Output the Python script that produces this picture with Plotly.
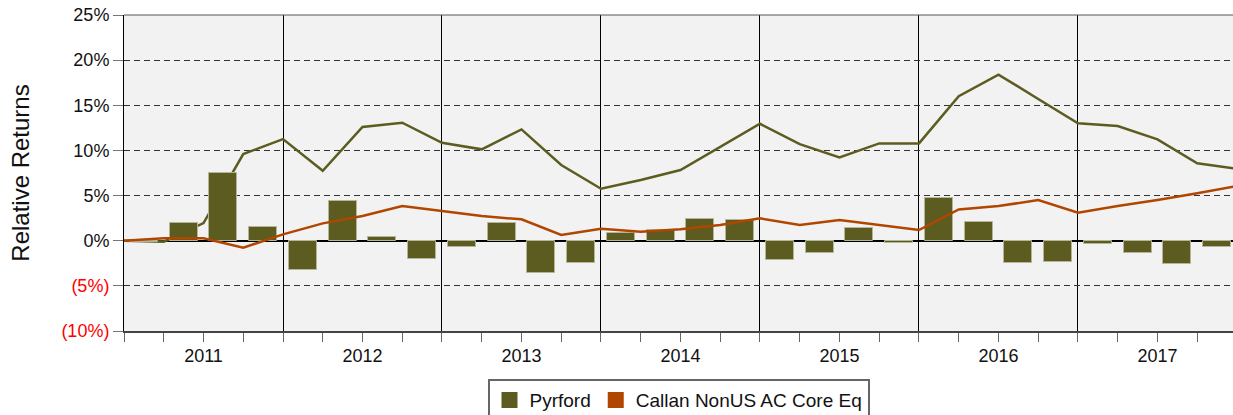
import plotly.graph_objects as go

# Quarter-end index: 0 = start of 2011, 28 = end of 2017
quarter_index = list(range(29))
bar_index = [q + 0.5 for q in range(28)]

years = ["2011", "2012", "2013", "2014", "2015", "2016", "2017"]

# Quarterly relative returns of Pyrford (bars), 2011Q1..2017Q4
pyrford_quarterly = [
    -0.1, 2.0, 7.5, 1.55,
    -3.25, 4.43, 0.37, -2.06,
    -0.66, 1.92, -3.6, -2.5,
    0.82, 1.2, 2.37, 2.29,
    -2.14, -1.4, 1.37, -0.2,
    4.7, 2.1, -2.5, -2.4,
    -0.37, -1.4, -2.58, -0.66,
]

# Cumulative relative returns at each quarter end
pyrford_cumulative = [
    0.0, -0.1, 1.96, 9.6, 11.26,
    7.75, 12.6, 13.07, 10.85,
    10.12, 12.33, 8.38, 5.76,
    6.72, 7.83, 10.4, 12.95,
    10.7, 9.23, 10.78, 10.78,
    16.0, 18.4, 15.7, 13.0,
    12.7, 11.23, 8.57, 7.98,
]
callan_cumulative = [
    0.0, 0.27, 0.27, -0.77, 0.7,
    1.92, 2.73, 3.84, 3.29,
    2.73, 2.37, 0.63, 1.33,
    1.0, 1.26, 1.74, 2.48,
    1.74, 2.29, 1.74, 1.18,
    3.47, 3.84, 4.5, 3.1,
    3.84, 4.5, 5.25, 6.05,
]

y_ticks = [-10, -5, 0, 5, 10, 15, 20, 25]
y_labels = ['<span style="color:#ff0000">(10%)</span>',
            '<span style="color:#ff0000">(5%)</span>',
            "0%", "5%", "10%", "15%", "20%", "25%"]

OLIVE = "#5c5c21"
RUST = "#b04600"
FONT = "Liberation Sans, Arial, sans-serif"
X_RANGE = [0, 27.9]
Y_RANGE = [-10, 25]

fig = go.Figure()

# Cumulative Pyrford line sits on the base axes, beneath the bars
fig.add_trace(go.Scatter(
    x=quarter_index, y=pyrford_cumulative, mode="lines",
    line=dict(color=OLIVE, width=2.5), showlegend=False,
    xaxis="x", yaxis="y",
))
# Quarterly bars and benchmark line on the overlay axes
fig.add_trace(go.Bar(
    x=bar_index, y=pyrford_quarterly, width=0.7,
    marker=dict(color=OLIVE, line=dict(color="#b5b59a", width=1)),
    showlegend=False, xaxis="x2", yaxis="y2",
))
fig.add_trace(go.Scatter(
    x=quarter_index, y=callan_cumulative, mode="lines",
    line=dict(color=RUST, width=2.5), showlegend=False,
    xaxis="x2", yaxis="y2",
))

# Legend entries
fig.add_trace(go.Scatter(
    x=[None], y=[None], mode="markers", name="Pyrford",
    marker=dict(symbol="square", size=16, color=OLIVE),
    xaxis="x2", yaxis="y2",
))
fig.add_trace(go.Scatter(
    x=[None], y=[None], mode="markers", name="Callan NonUS AC Core Eq",
    marker=dict(symbol="square", size=16, color=RUST),
    xaxis="x2", yaxis="y2",
))

fig.update_layout(
    width=1233, height=415,
    margin=dict(l=124, r=0, t=15, b=84, autoexpand=False),
    paper_bgcolor="white",
    plot_bgcolor="#f2f2f2",
    font=dict(family=FONT, size=18, color="#111"),
    bargap=0,
    xaxis=dict(
        range=X_RANGE,
        tickvals=list(range(0, 29, 4)),
        showticklabels=False,
        ticks="outside", ticklen=9, tickwidth=1, tickcolor="#666",
        minor=dict(tickvals=[q for q in range(29) if q % 4], ticks="outside",
                   ticklen=9, tickwidth=1, tickcolor="#666"),
        showgrid=True, gridcolor="#000", gridwidth=1,
        showline=True, linecolor="#444", linewidth=2,
        zeroline=False,
    ),
    xaxis2=dict(
        range=X_RANGE, overlaying="x", side="bottom",
        tickvals=[4 * i + 2 for i in range(len(years))], ticktext=years,
        ticks="outside", ticklen=8, tickcolor="rgba(0,0,0,0)",
        showgrid=False, showline=False, zeroline=False,
        tickfont=dict(size=18),
    ),
    yaxis=dict(
        range=Y_RANGE,
        tickvals=y_ticks, ticktext=y_labels,
        ticks="outside", ticklen=10, tickcolor="#777",
        showgrid=True, gridcolor="#333", gridwidth=1, griddash="6px,4px",
        zeroline=True, zerolinecolor="#000", zerolinewidth=1.5,
        showline=True, linecolor="#000", linewidth=1,
        title=dict(text="Relative Returns", font=dict(size=24), standoff=24),
    ),
    yaxis2=dict(
        range=Y_RANGE, overlaying="y", visible=False,
    ),
    legend=dict(
        orientation="h", x=0.5, xanchor="center", y=-0.152, yanchor="top",
        bordercolor="#666", borderwidth=2, bgcolor="white",
        font=dict(size=19), itemsizing="trace",
        traceorder="normal",
    ),
    shapes=[dict(type="line", xref="paper", yref="paper",
                 x0=0, x1=1, y0=1, y1=1, line=dict(color="#555", width=1))],
)

fig.write_html("out.html")
